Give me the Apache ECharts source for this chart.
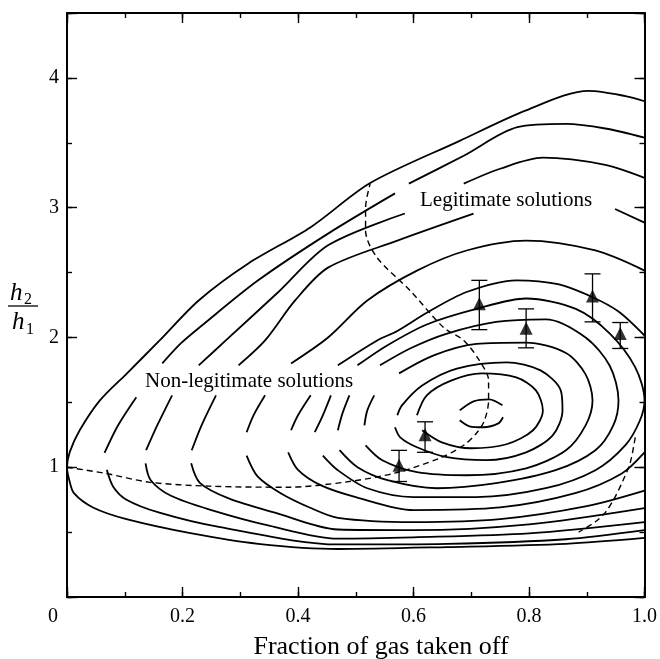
<!DOCTYPE html>
<html>
<head>
<meta charset="utf-8">
<script src="https://cdn.jsdelivr.net/npm/echarts@6/dist/echarts.min.js"></script>
<style>
  html, body { margin: 0; background: #fff; }
  #chart { width: 660px; height: 659px; }
</style>
</head>
<body>
<div id="chart"></div>
<script>
// contour curves, outermost first; each is a list of drawn pieces [x, h2/h1]
const curve1 = [
  [[1.0,3.82],[0.967,3.86],[0.903,3.9],[0.795,3.75],[0.68,3.515],[0.525,3.19],[0.422,2.85],[0.314,2.57],[0.228,2.285],[0.16,1.975],[0.103,1.72],[0.057,1.515],[0.022,1.285],[0.005,1.12],[0,1.0],[0.004,0.9],[0.012,0.8],[0.045,0.69],[0.103,0.6],[0.216,0.49],[0.331,0.41],[0.469,0.37],[0.658,0.385],[0.864,0.41],[1.0,0.455]]
]
const curve2 = [
  [[1.0,3.54],[0.932,3.61],[0.864,3.645],[0.78,3.62],[0.687,3.4],[0.592,3.185]],
  [[0.568,3.11],[0.452,2.8],[0.331,2.44],[0.233,2.09],[0.197,1.954],[0.165,1.8]],
  [[0.12,1.54],[0.088,1.32],[0.065,1.11]],
  [[0.069,0.98],[0.08,0.85],[0.103,0.75],[0.16,0.65],[0.263,0.54],[0.469,0.405],[0.658,0.41],[0.864,0.445],[1.0,0.515]]
]
const curve3 = [
  [[1.0,3.23],[0.932,3.33],[0.824,3.385],[0.75,3.3],[0.687,3.185]],
  [[0.585,2.955],[0.452,2.71],[0.366,2.35],[0.275,1.977],[0.228,1.785]],
  [[0.182,1.554],[0.156,1.32],[0.137,1.131]],
  [[0.136,1.03],[0.145,0.9],[0.18,0.78],[0.25,0.67],[0.35,0.55],[0.469,0.45],[0.6,0.46],[0.8,0.49],[1.0,0.577]]
]
const curve4 = [
  [[1.0,2.885],[0.949,2.99]],
  [[0.704,2.954],[0.572,2.746],[0.452,2.538],[0.395,2.285],[0.343,1.977],[0.297,1.785]],
  [[0.258,1.554],[0.233,1.323],[0.216,1.131]],
  [[0.215,1.03],[0.23,0.88],[0.28,0.76],[0.36,0.65],[0.469,0.52],[0.6,0.515],[0.8,0.56],[1.0,0.685]]
]
const curve5 = [
  [[1.0,2.515],[0.915,2.67],[0.795,2.746],[0.692,2.67],[0.606,2.515],[0.52,2.285],[0.452,2.0],[0.388,1.8]],
  [[0.343,1.554],[0.323,1.4],[0.311,1.269]],
  [[0.311,1.09],[0.33,0.93],[0.37,0.8],[0.42,0.69],[0.469,0.61],[0.6,0.577],[0.75,0.6],[0.9,0.7],[1.0,0.82]]
]
const curve6 = [
  [[1.0,2.015],[0.955,2.2],[0.91,2.31],[0.85,2.41],[0.778,2.44],[0.692,2.35],[0.623,2.19],[0.572,2.05],[0.537,1.977],[0.469,1.785]],
  [[0.422,1.554],[0.4,1.4],[0.388,1.285]],
  [[0.383,1.115],[0.4,0.98],[0.44,0.86],[0.5,0.77],[0.6,0.67],[0.75,0.69],[0.88,0.8],[0.96,0.95],[1.0,1.115]]
]
const curve7 = [
  [[0.503,1.785],[0.555,1.94],[0.623,2.1],[0.709,2.22],[0.795,2.3],[0.881,2.22],[0.94,2.03],[0.984,1.77],[1.0,1.515],[0.992,1.36],[0.967,1.17],[0.915,0.977],[0.829,0.838],[0.709,0.77],[0.6,0.77],[0.52,0.838],[0.469,0.977],[0.443,1.09]],
  [[0.457,1.554],[0.443,1.4],[0.429,1.27]]
]
const curve8 = [
  [[0.542,1.785],[0.594,1.915],[0.658,2.03],[0.743,2.12],[0.829,2.14],[0.898,2.0],[0.94,1.78],[0.955,1.515],[0.946,1.323],[0.915,1.131],[0.846,0.977],[0.743,0.877],[0.64,0.838],[0.555,0.9],[0.503,1.0],[0.472,1.131]],
  [[0.489,1.554],[0.477,1.415],[0.469,1.285]]
]
const curve9 = [
  [[0.575,1.723],[0.635,1.862],[0.709,1.95],[0.795,1.96],[0.864,1.88],[0.898,1.715],[0.91,1.515],[0.898,1.323],[0.864,1.131],[0.795,0.992],[0.692,0.938],[0.606,0.962],[0.546,1.054],[0.517,1.169]],
  [[0.532,1.554],[0.52,1.438],[0.515,1.323]]
]
const curve10 = [
  [[0.572,1.4],[0.58,1.477],[0.615,1.63],[0.675,1.76],[0.761,1.808],[0.82,1.746],[0.855,1.592],[0.858,1.438],[0.841,1.246],[0.795,1.115],[0.726,1.054],[0.658,1.077],[0.606,1.154],[0.577,1.23],[0.568,1.308]]
]
const curve11 = [
  [[0.606,1.4],[0.623,1.554],[0.666,1.669],[0.718,1.723],[0.778,1.692],[0.812,1.592],[0.824,1.438],[0.807,1.285],[0.761,1.177],[0.7,1.146],[0.649,1.192],[0.615,1.285]]
]
const curve12 = [
  [[0.68,1.438],[0.704,1.508],[0.731,1.523],[0.754,1.477]],
  [[0.68,1.362],[0.697,1.315],[0.721,1.308],[0.747,1.338],[0.755,1.385]]
]
const contours = [curve1, curve2, curve3, curve4, curve5, curve6, curve7, curve8, curve9, curve10, curve11, curve12]

// dashed boundaries between legitimate / non-legitimate
const dashMain = [[0,1.0],[0.065,0.954],[0.142,0.885],[0.245,0.854],[0.383,0.846],[0.481,0.885],[0.567,0.954],[0.645,1.069],[0.687,1.169],[0.709,1.262],[0.723,1.362],[0.73,1.515],[0.73,1.669],[0.714,1.823],[0.687,1.977],[0.652,2.077],[0.594,2.362],[0.537,2.615],[0.517,2.823],[0.517,3.0],[0.525,3.185]]
const dashRight = [[0.984,1.23],[0.975,1.03],[0.963,0.9],[0.949,0.77],[0.932,0.65],[0.915,0.58],[0.886,0.5]]

// measurements with error bars
const measX = [0.575, 0.62, 0.714, 0.795, 0.91, 0.958]
const measY = [1.015, 1.25, 2.26, 2.07, 2.32, 2.03]
const measLow = [0.89, 1.115, 2.06, 1.92, 2.12, 1.915]
const measHigh = [1.13, 1.35, 2.44, 2.22, 2.49, 2.115]

const xTicks = ['0', '0.2', '0.4', '0.6', '0.8', '1.0']
const yTicks = ['1', '2', '3', '4']

const serif = '"Liberation Serif", "DejaVu Serif", serif'
const chart = echarts.init(document.getElementById('chart'))

const series = []
contours.forEach(pieces => {
  pieces.forEach(piece => {
    series.push({
      type: 'line', data: piece, symbol: 'none', smooth: 0.3,
      lineStyle: { color: '#000', width: 1.8 }, silent: true
    })
  })
})
series.push({
  type: 'line', data: dashMain, symbol: 'none', smooth: 0.3,
  lineStyle: { color: '#000', width: 1.4, type: [6, 4] }, silent: true
})
series.push({
  type: 'line', data: dashRight, symbol: 'none', smooth: 0.3,
  lineStyle: { color: '#000', width: 1.4, type: [6, 4] }, silent: true
})
series.push({
  type: 'custom',
  data: measX.map((x, i) => [x, measLow[i], measHigh[i]]),
  encode: { x: 0, y: [1, 2] },
  renderItem(params, api) {
    const lo = api.coord([api.value(0), api.value(1)])
    const hi = api.coord([api.value(0), api.value(2)])
    const w = 8
    const st = { stroke: '#000', lineWidth: 1.3 }
    return {
      type: 'group',
      children: [
        { type: 'line', shape: { x1: lo[0], y1: lo[1], x2: hi[0], y2: hi[1] }, style: st },
        { type: 'line', shape: { x1: lo[0] - w, y1: lo[1], x2: lo[0] + w, y2: lo[1] }, style: st },
        { type: 'line', shape: { x1: hi[0] - w, y1: hi[1], x2: hi[0] + w, y2: hi[1] }, style: st }
      ]
    }
  }
})
series.push({
  type: 'scatter', data: measX.map((x, i) => [x, measY[i]]),
  symbol: 'triangle', symbolSize: 13, itemStyle: { color: '#000' }, silent: true
})

// "0" sits left of the corner in the original, so pad it on the right
const tickLabelX = v => {
  const r = Math.round(v * 5)
  if (Math.abs(v * 5 - r) > 1e-6) return ''
  return r === 0 ? '{z|0}' : xTicks[r]
}
const tickLabelY = v => {
  const r = Math.round(v)
  return Math.abs(v - r) < 1e-6 && r >= 1 && r <= 4 ? yTicks[r - 1] : ''
}

function xAxis(position, interval, len, labels) {
  return {
    type: 'value', position, min: 0, max: 1.0, interval,
    axisLine: { show: true, onZero: false, lineStyle: { color: '#000', width: 1.8 } },
    axisTick: { show: true, inside: true, length: len, lineStyle: { color: '#000', width: 1.4 } },
    axisLabel: labels ? {
      show: true, formatter: tickLabelX, color: '#000', fontFamily: serif, fontSize: 20, margin: 10,
      rich: { z: { fontFamily: serif, fontSize: 20, color: '#000', padding: [0, 28, 0, 0] } }
    } : { show: false },
    splitLine: { show: false }
  }
}
function yAxis(position, interval, len, labels) {
  return {
    type: 'value', position, min: 0, max: 4.5, interval,
    axisLine: { show: true, onZero: false, lineStyle: { color: '#000', width: 1.8 } },
    axisTick: { show: true, inside: true, length: len, lineStyle: { color: '#000', width: 1.4 } },
    axisLabel: labels ? { show: true, formatter: tickLabelY, color: '#000', fontFamily: serif, fontSize: 20, margin: 8 } : { show: false },
    splitLine: { show: false }
  }
}

chart.setOption({
  animation: false,
  backgroundColor: '#fff',
  grid: { left: 67, right: 12, top: 13, bottom: 62, containLabel: false },
  xAxis: [
    xAxis('bottom', 0.2, 10, true),
    xAxis('bottom', 0.1, 5, false),
    xAxis('top', 0.2, 10, false),
    xAxis('top', 0.1, 5, false)
  ],
  yAxis: [
    yAxis('left', 1, 10, true),
    yAxis('left', 0.5, 5, false),
    yAxis('right', 1, 10, false),
    yAxis('right', 0.5, 5, false)
  ],
  series,
  graphic: [
    { type: 'text', style: { x: 381, y: 647, text: 'Fraction of gas taken off', font: '26px ' + serif, fill: '#000', textAlign: 'center', textVerticalAlign: 'middle' } },
    { type: 'text', style: { x: 420, y: 200, text: 'Legitimate solutions', font: '21px ' + serif, fill: '#000', textAlign: 'left', textVerticalAlign: 'middle' } },
    { type: 'text', style: { x: 145, y: 381, text: 'Non-legitimate solutions', font: '21px ' + serif, fill: '#000', textAlign: 'left', textVerticalAlign: 'middle' } },
    { type: 'text', style: { x: 10, y: 293, text: 'h', font: 'italic 25px ' + serif, fill: '#000', textAlign: 'left', textVerticalAlign: 'middle' } },
    { type: 'text', style: { x: 24, y: 300, text: '2', font: '16px ' + serif, fill: '#000', textAlign: 'left', textVerticalAlign: 'middle' } },
    { type: 'line', shape: { x1: 8, y1: 306, x2: 38, y2: 306 }, style: { stroke: '#000', lineWidth: 1.3 } },
    { type: 'text', style: { x: 12, y: 322, text: 'h', font: 'italic 25px ' + serif, fill: '#000', textAlign: 'left', textVerticalAlign: 'middle' } },
    { type: 'text', style: { x: 26, y: 330, text: '1', font: '16px ' + serif, fill: '#000', textAlign: 'left', textVerticalAlign: 'middle' } }
  ]
})
</script>
</body>
</html>
